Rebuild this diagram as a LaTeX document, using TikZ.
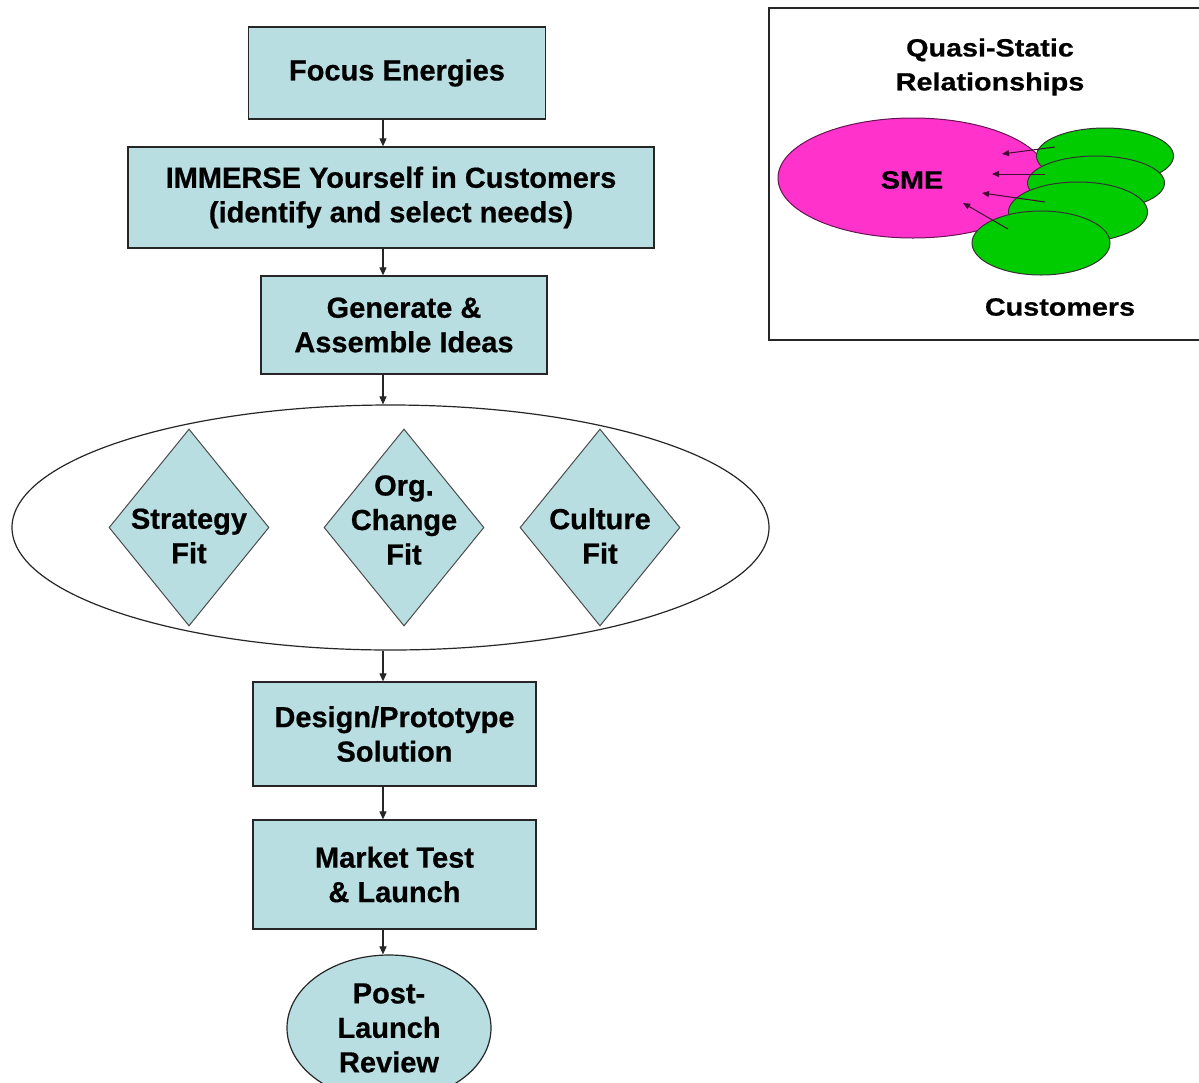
\documentclass[tikz,border=0pt]{standalone}
\usepackage{fontspec}
\setmainfont{Liberation Sans}[BoldFeatures={FakeBold=0.6}]
\newfontfamily\widefont{Liberation Sans}[FakeStretch=1.15,BoldFeatures={FakeBold=0.6}]
\usetikzlibrary{shapes.geometric,arrows.meta}
\definecolor{boxblue}{RGB}{185,222,225}
\definecolor{smepink}{RGB}{255,51,204}
\definecolor{custgreen}{RGB}{0,204,0}
\tikzset{
  mainfont/.style={font=\fontsize{29}{34.5}\selectfont\bfseries},
  stepbox/.style={draw=black!85, line width=1.3pt, fill=boxblue, inner sep=0pt, align=center, mainfont},
  fitdiamond/.style={diamond, draw=black!70, line width=1pt, fill=boxblue, inner sep=0pt, minimum width=160pt, minimum height=197pt},
  fittext/.style={align=center, inner sep=0pt, mainfont},
  flowarrow/.style={draw=black!85, line width=1.1pt, -{Triangle[length=8pt,width=7pt]}},
  cust/.style={ellipse, draw=black!80, line width=1pt, fill=custgreen, inner sep=0pt},
  relarrow/.style={draw=black!75!smepink, line width=1pt, -{Triangle[length=7pt,width=6pt]}},
  paneltext/.style={align=center, inner sep=0pt, font=\widefont\fontsize{25}{34}\selectfont\bfseries}
}
\begin{document}
\begin{tikzpicture}[x=1pt,y=-1pt]
\useasboundingbox (0,0) rectangle (1199,1082);
\clip (0,0) rectangle (1199,1082);
\fill[white] (0,0) rectangle (1199,1082);

% flow chart
\coordinate (ax) at (383,0);
\node[stepbox, minimum width=297pt, minimum height=92pt] (focus) at (397,73) {Focus Energies};
\node[stepbox, minimum width=526pt, minimum height=101pt] (immerse) at (391,197.5) {IMMERSE Yourself in Customers\\(identify and select needs)};
\node[stepbox, minimum width=286pt, minimum height=98pt] (generate) at (404,325) {Generate \&\\Assemble Ideas};
\node[ellipse, draw=black!85, line width=1.2pt, fill=white, inner sep=0pt, minimum width=757pt, minimum height=245pt] (fits) at (390.5,527.5) {};
\node[fitdiamond] (sfit) at (189,527.5) {};
\node[fittext] (sfitt) at (189,536) {Strategy\\Fit};
\node[fitdiamond] (ofit) at (404,527.5) {};
\node[fittext] (ofitt) at (404,520) {Org.\\Change\\Fit};
\node[fitdiamond] (cfit) at (600,527.5) {};
\node[fittext] (cfitt) at (600,536) {Culture\\Fit};
\node[stepbox, minimum width=283pt, minimum height=104pt] (design) at (394.5,734) {Design/Prototype\\Solution};
\node[stepbox, minimum width=283pt, minimum height=109pt] (market) at (394.5,874.5) {Market Test\\\& Launch};
\node[ellipse, draw=black!85, line width=1.2pt, fill=boxblue, inner sep=0pt, minimum width=204pt, minimum height=146pt, align=center, mainfont] (review) at (389,1028) {Post-\\Launch\\Review};

\draw[flowarrow] (focus.south -| ax) -- (immerse.north -| ax);
\draw[flowarrow] (immerse.south -| ax) -- (generate.north -| ax);
\draw[flowarrow] (generate.south -| ax) -- (fits.north -| ax);
\draw[flowarrow] (fits.south -| ax) -- (design.north -| ax);
\draw[flowarrow] (design.south -| ax) -- (market.north -| ax);
\draw[flowarrow] (market.south -| ax) -- (review.north -| ax);

% right panel
\node[draw=black!85, line width=1.3pt, fill=white, minimum width=444pt, minimum height=332pt, inner sep=0pt] (panel) at (991,174) {};
\node[paneltext] (title) at (990,67) {Quasi-Static\\Relationships};
\node[ellipse, draw=black!60!smepink, line width=1pt, fill=smepink, inner sep=0pt, minimum width=270pt, minimum height=120pt] (sme) at (913,178) {};
\node[paneltext] (smelabel) at (912,180) {SME};
\node[cust, minimum width=137pt, minimum height=56pt] (c1) at (1105,156) {};
\node[cust, minimum width=137pt, minimum height=54pt] (c2) at (1096,183) {};
\node[cust, minimum width=139pt, minimum height=60pt] (c3) at (1078,212) {};
\node[cust, minimum width=138pt, minimum height=64pt] (c4) at (1041,243) {};
\coordinate (t1) at (1002,154);
\coordinate (t2) at (992,174);
\coordinate (t3) at (982,193);
\coordinate (t4) at (963,203);
\draw[relarrow] ([xshift=-50pt,yshift=9pt]c1.center) -- (t1);
\draw[relarrow] ([xshift=-51pt,yshift=9pt]c2.center) -- (t2);
\draw[relarrow] ([xshift=-33pt,yshift=10pt]c3.center) -- (t3);
\draw[relarrow] ([xshift=-33pt,yshift=14pt]c4.center) -- (t4);
\node[paneltext] (custlabel) at (1060,307) {Customers};
\end{tikzpicture}
\end{document}
